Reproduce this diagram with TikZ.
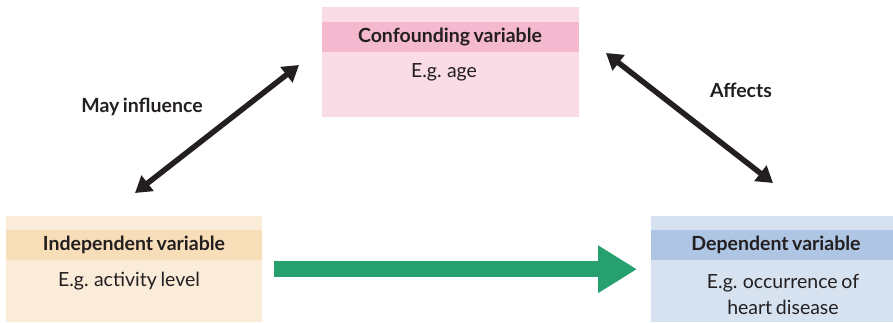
\documentclass[tikz,border=0pt]{standalone}
\usepackage{fontspec}
\setmainfont{Lato}[WordSpace=0.75]
\usetikzlibrary{arrows.meta,positioning,calc}

\definecolor{confbg}{HTML}{FADCE6}
\definecolor{confhd}{HTML}{F5B9CF}
\definecolor{indbg}{HTML}{FBECD9}
\definecolor{indhd}{HTML}{F8DDB9}
\definecolor{depbg}{HTML}{D6E2F0}
\definecolor{dephd}{HTML}{AEC5E3}
\definecolor{arrgreen}{HTML}{26A06F}
\definecolor{txt}{HTML}{231F20}

\begin{document}
\begin{tikzpicture}[x=1pt,y=-1pt, font=\fontsize{19.5}{24}\selectfont, text=txt,
  box/.style={inner sep=0pt, minimum height=106pt, anchor=north west},
  head/.style={font=\fontsize{19.5}{24}\selectfont\bfseries},
  dbl/.style={line width=5.5pt, draw=txt, {Triangle[length=16pt,width=19pt]}-{Triangle[length=16pt,width=19pt]}},
  bigarrow/.style={line width=16pt, draw=arrgreen, -{Triangle[length=39pt,width=45pt]}}]
    \useasboundingbox (0,0) rectangle (893,322);

    % boxes
    \node[box, fill=confbg, minimum width=257pt, minimum height=110pt] (conf) at (322,7) {};
    \fill[confhd] (322,22) rectangle (579,52);
    \node[box, fill=indbg, minimum width=256pt] (indep) at (6,216) {};
    \fill[indhd] (6,230) rectangle (262,260);
    \node[box, fill=depbg, minimum width=242pt] (dep) at (651,216) {};
    \fill[dephd] (651,230) rectangle (893,260);

    % texts
    \node[head] (confT) at (450,37) {Confounding variable};
    \node (confE) at (444,72) {E.g. age};
    \node[head] (indepT) at (134,245) {Independent variable};
    \node (indepE) at (129,281) {E.g. activity level};
    \node[head] (depT) at (776,245) {Dependent variable};
    \node[align=center, font=\fontsize{19.5}{26}\selectfont] (depE) at (783,294) {E.g. occurrence of\\heart disease};

    \node[head] (mayinf) at (142,107) {May influence};
    \node[head] (aff) at (741,90) {Affects};

    % arrows
    \coordinate (mi1) at (135,193);
    \coordinate (mi2) at (299,65);
    \coordinate (af1) at (606,53);
    \coordinate (af2) at (773,183);
    \draw[dbl] (mi1) -- (mi2);
    \draw[dbl] (af1) -- (af2);
    \draw[bigarrow, shorten <=12pt, shorten >=14pt] (indep.east) -- (dep.west);
\end{tikzpicture}
\end{document}
